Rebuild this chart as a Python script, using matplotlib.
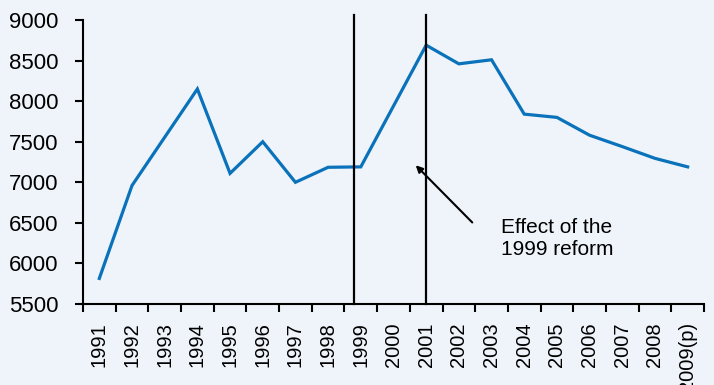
import matplotlib
matplotlib.use("Agg")
import matplotlib.pyplot as plt
import numpy as np

plt.rcParams['font.family'] = ['Liberation Sans', 'DejaVu Sans']

years = ["1991", "1992", "1993", "1994", "1995", "1996", "1997", "1998", "1999",
         "2000", "2001", "2002", "2003", "2004", "2005", "2006", "2007", "2008",
         "2009(p)"]
values = [5815, 6960, 7555, 8150, 7110, 7500, 7000, 7185, 7190,
          7940, 8690, 8460, 8510, 7840, 7800, 7580, 7440, 7295, 7190]
yticks = [5500, 6000, 6500, 7000, 7500, 8000, 8500, 9000]
reform_lines = [7.8, 10.0]   # positions of the two vertical markers (category index)

bg = "#eff4fa"
fig = plt.figure(figsize=(7.14, 3.85), dpi=100, facecolor=bg)
ax = fig.add_axes([0.1162, 0.2104, 0.8698, 0.7376], facecolor=bg)

x = np.arange(len(years))
ax.plot(x, values, color="#0a72ba", lw=2.3, solid_joinstyle="miter", zorder=3)

for xv in reform_lines:
    ax.plot([xv, xv], [5500, 9060], color="black", lw=1.6, clip_on=False, zorder=4)

ax.annotate("", xy=(9.68, 7210), xytext=(11.41, 6505),
            arrowprops=dict(arrowstyle="-|>", color="black", lw=1.5,
                            mutation_scale=10, shrinkA=0, shrinkB=0))
ax.text(12.3, 6310, "Effect of the\n1999 reform", fontsize=15, va="center",
        ha="left", linespacing=1.2)

ax.set_xlim(-0.5, len(years) - 0.5)
ax.set_ylim(5500, 9000)
ax.set_yticks(yticks)
ax.set_yticklabels([str(v) for v in yticks], fontsize=16)
ax.set_xticks(x)
ax.set_xticklabels(years, rotation=90, fontsize=14.5)
ax.set_xticks(np.arange(-0.5, len(years), 1.0), minor=True)
ax.tick_params(axis="x", which="major", length=0, pad=13)
ax.tick_params(axis="x", which="minor", length=5.5, width=1.5, direction="out")
ax.tick_params(axis="y", length=5.5, width=1.5, pad=12)

for s in ["top", "right"]:
    ax.spines[s].set_visible(False)
for s in ["left", "bottom"]:
    ax.spines[s].set_linewidth(1.5)

fig.savefig("out.png", dpi=100, facecolor=bg)
